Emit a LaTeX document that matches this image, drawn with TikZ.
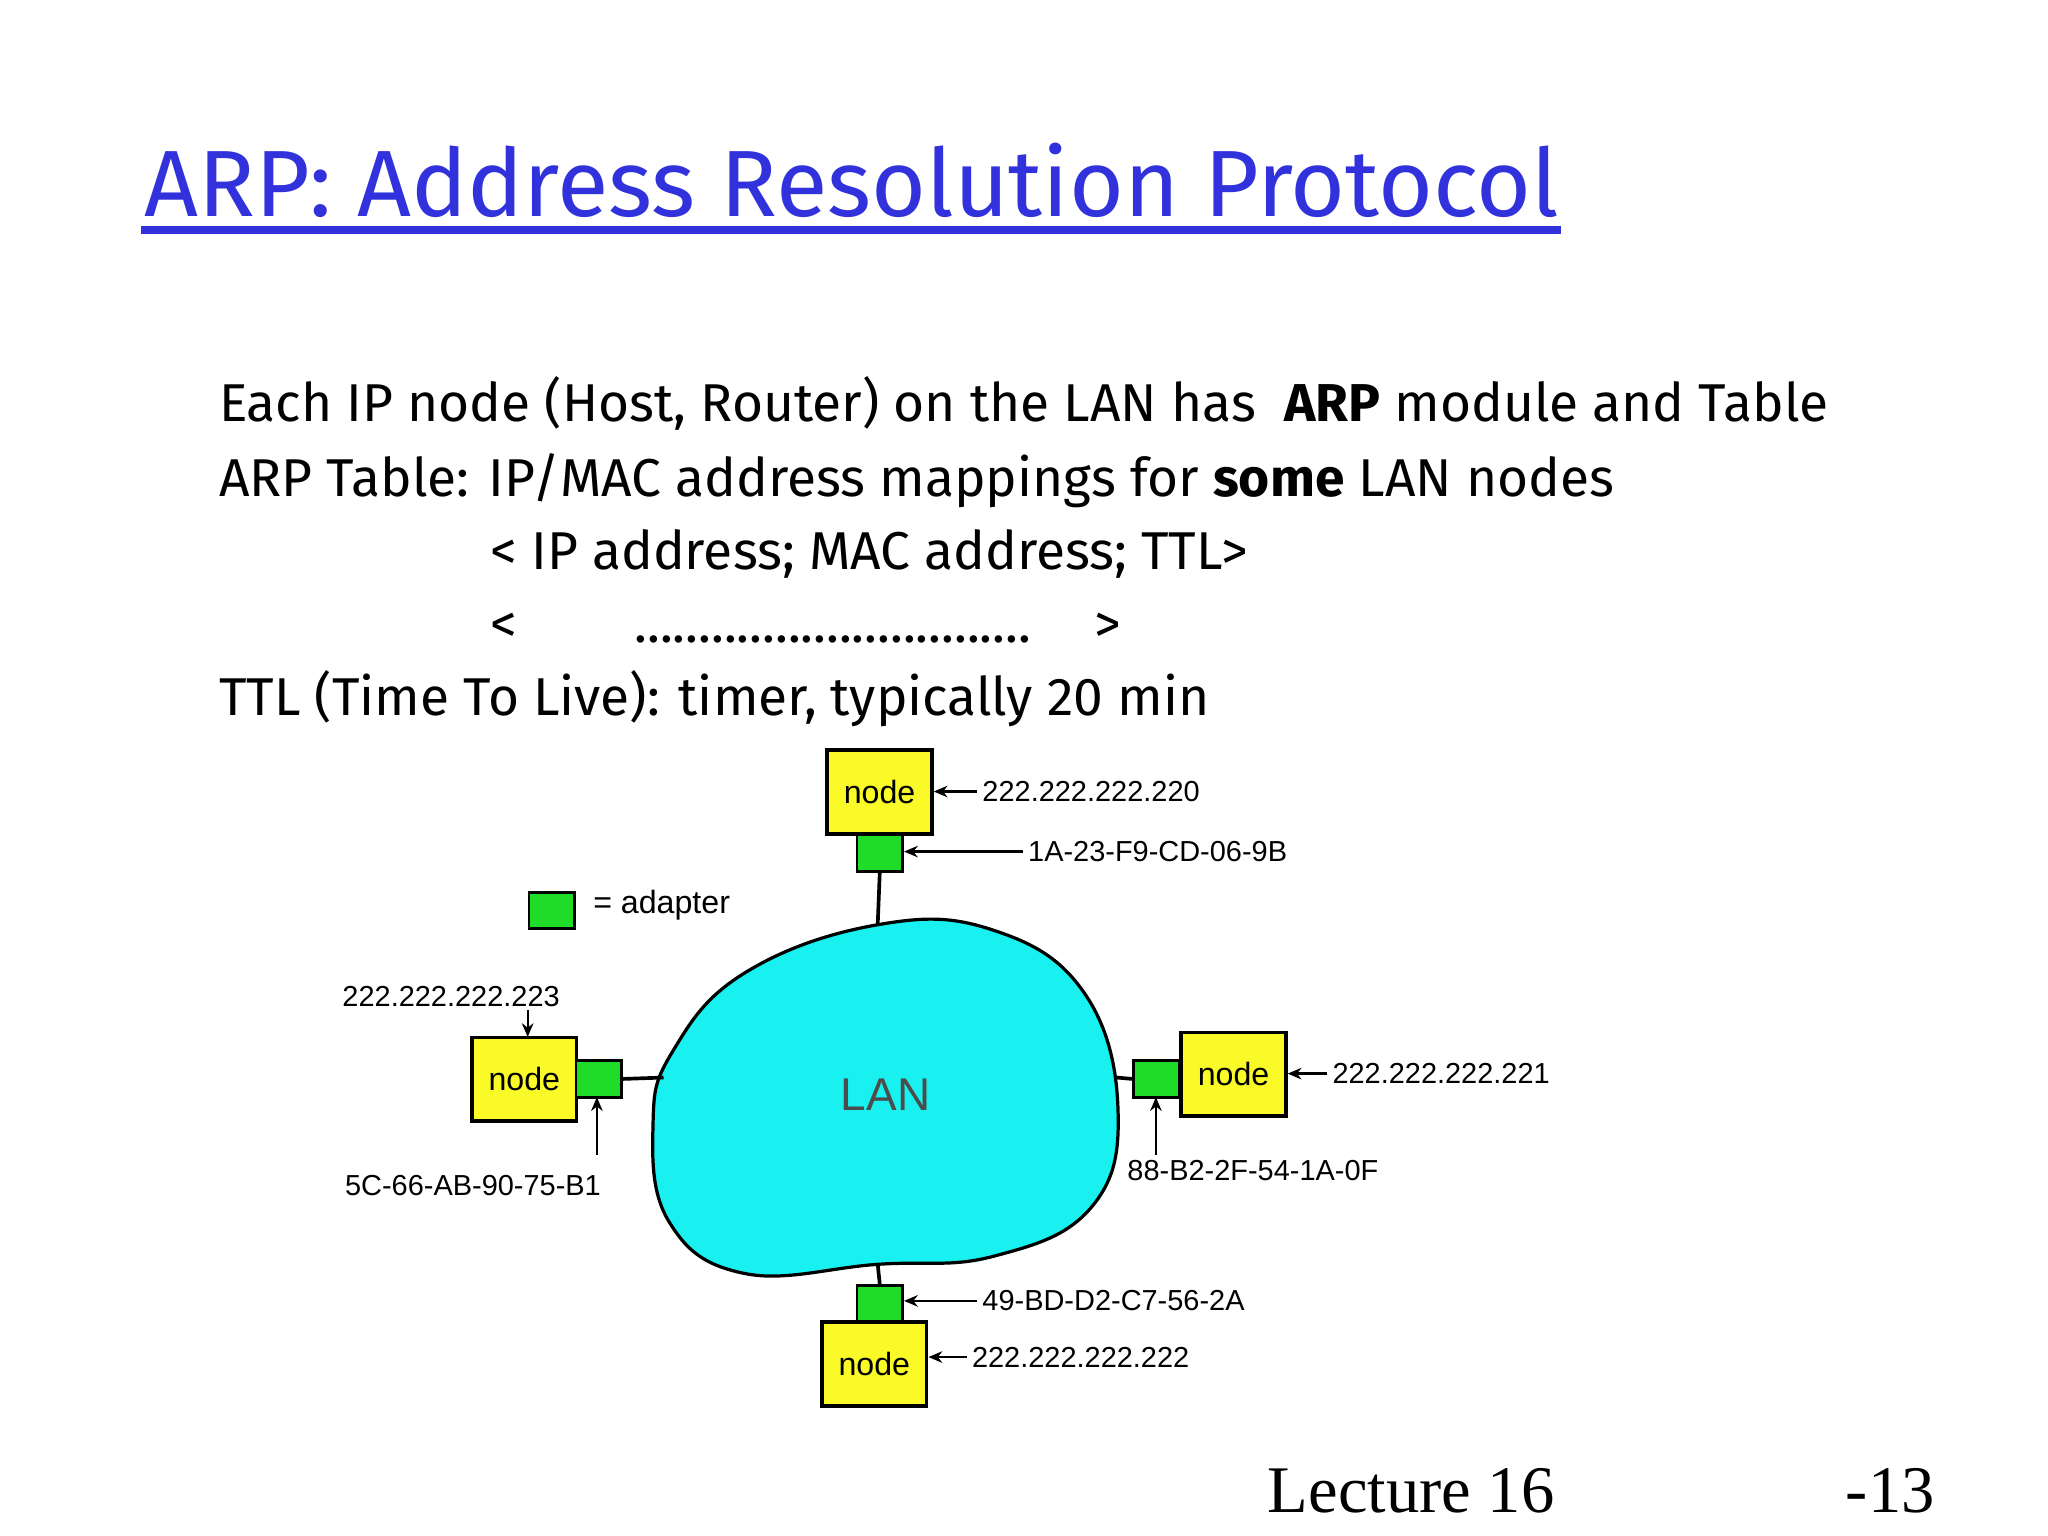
\documentclass[tikz,border=0pt]{standalone}
\usepackage{fontspec}
\setmainfont{Fira Sans}
\newfontfamily\arialf{Liberation Sans}
\newfontfamily\timesf{Liberation Serif}
\usetikzlibrary{arrows.meta}
\definecolor{titleblue}{RGB}{50,50,220}
\definecolor{nodey}{RGB}{250,250,40}
\definecolor{adapg}{RGB}{30,220,40}
\definecolor{lanc}{RGB}{25,240,240}
\tikzset{
 hostbox/.style={draw=black,fill=nodey,line width=0.8pt,minimum width=0.8cm,minimum height=0.64cm,inner sep=0pt,font=\arialf\fontsize{7}{9}\selectfont,anchor=north west},
 adap/.style={draw=black,fill=adapg,line width=0.6pt,minimum width=0.35cm,minimum height=0.28cm,inner sep=0pt,anchor=north west},
 lbl/.style={font=\arialf\fontsize{6.3}{7}\selectfont,inner sep=1pt,anchor=west},
 body/.style={font=\fontsize{11.6}{14}\selectfont,anchor=base west,inner sep=0pt},
 pt/.style={-{Stealth[length=3pt,width=2.5pt]},line width=0.5pt}
}
\begin{document}
\begin{tikzpicture}[x=0.01cm,y=-0.01cm]
\useasboundingbox (0,0) rectangle (1568,1176);
\node[font=\fontsize{20.5}{25}\selectfont,text=titleblue,anchor=base west,inner sep=0pt] (title) at (110,166) {ARP: Address Resolution Protocol};
\draw[titleblue,line width=1.6pt] (108,176) -- (1195,176);
\node[body] (l1) at (167,323) {Each IP node (Host, Router) on the LAN has\ \ \textbf{ARP} module and Table};
\node[body] (l2) at (167,380) {ARP Table: IP/MAC address mappings for \textbf{some} LAN nodes};
\node[body] (l3) at (375,436) {< IP address; MAC address; TTL>};
\node[body] (l4) at (375,492) {<\hspace{2.2em}...............................\hspace{1.2em}>};
\node[body] (l5) at (167,548) {TTL (Time To Live): timer, typically 20 min};
% LAN
\fill[lanc,draw=black,line width=0.7pt] plot[smooth cycle,tension=0.7] coordinates{(672,708) (760,712) (830,760) (856,850) (835,925) (760,962) (672,968) (570,975) (512,935) (500,860) (515,805) (570,745)};
\node[font=\arialf\fontsize{10}{12}\selectfont,text=black!70] (lan) at (678,838) {LAN};
% legend
\node[adap] (lg) at (404,682) {};
\node[lbl,font=\arialf\fontsize{7}{8}\selectfont] (lgt) at (450,693) {= adapter};
% top
\node[hostbox] (n1) at (632,573) {node};
\node[adap] (a1) at (655,638) {};
\draw[line width=0.8pt] (a1.south) -- (672,708);
\node[lbl] (ip1) at (748,606) {222.222.222.220};
\draw[pt] (ip1.west) -- (n1.east|-ip1.west);
\node[lbl] (m1) at (783,652) {1A-23-F9-CD-06-9B};
\draw[pt] (m1.west) -- (a1.east|-m1.west);
% left
\node[hostbox] (n2) at (360,793) {node};
\node[adap] (a2) at (440,811) {};
\draw[line width=0.8pt] (a2.east) -- (508,825);
\node[lbl] (ip2) at (258,763) {222.222.222.223};
\draw[pt] (404,773) -- (404,794);
\node[lbl] (m2) at (260,908) {5C-66-AB-90-75-B1};
\draw[pt] (457,884) -- (457,840);
% right
\node[hostbox] (n3) at (903,789) {node};
\node[adap] (a3) at (867,811) {};
\draw[line width=0.8pt] (a3.west) -- (855,825);
\node[lbl] (ip3) at (1016,822) {222.222.222.221};
\draw[pt] (ip3.west) -- (n3.east|-ip3.west);
\node[lbl] (m3) at (859,896) {88-B2-2F-54-1A-0F};
\draw[pt] (885,884) -- (885,840);
% bottom
\node[adap] (a4) at (655,983) {};
\node[hostbox] (n4) at (628,1011) {node};
\draw[line width=0.8pt] (672,968) -- (a4.north);
\node[lbl] (m4) at (748,996) {49-BD-D2-C7-56-2A};
\draw[pt] (m4.west) -- (a4.east|-m4.west);
\node[lbl] (ip4) at (740,1039) {222.222.222.222};
\draw[pt] (ip4.west) -- (n4.east|-ip4.west);
% footer
\node[font=\timesf\fontsize{14.5}{16}\selectfont,anchor=base west,inner sep=0pt] (lec) at (970,1158) {Lecture 16};
\node[font=\timesf\fontsize{14.5}{16}\selectfont,anchor=base east,inner sep=0pt] (pg) at (1482,1158) {-13};
\end{tikzpicture}
\end{document}
